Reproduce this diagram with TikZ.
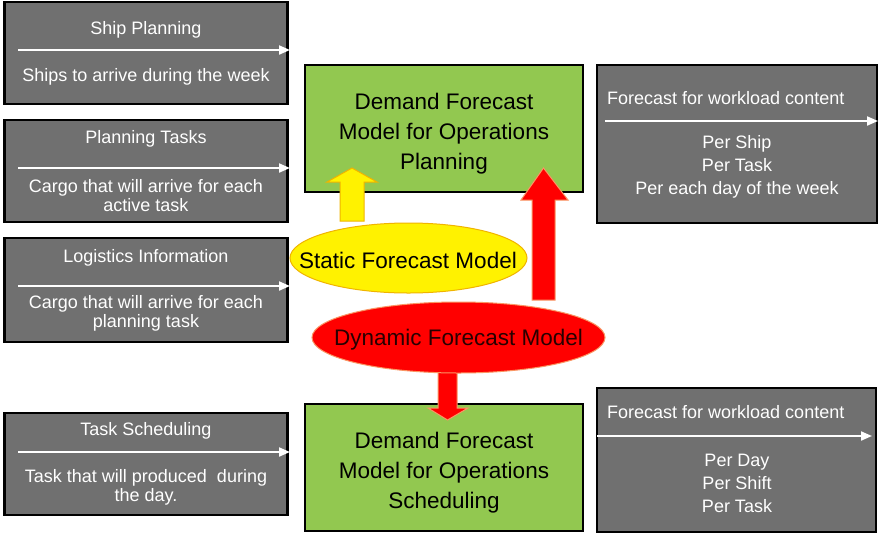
\documentclass[tikz,border=0pt]{standalone}
\usepackage{fontspec}
\setmainfont{Liberation Sans}
\usetikzlibrary{arrows.meta,shapes.geometric}
\definecolor{boxgray}{RGB}{112,112,112}
\definecolor{boxgreen}{RGB}{146,200,80}
\definecolor{yelloutline}{RGB}{240,180,0}
\definecolor{redoutline}{RGB}{250,150,100}
\definecolor{darktxt}{RGB}{40,0,0}
\tikzset{
  graybox/.style={draw=black, line width=2.5pt, fill=boxgray, inner sep=0pt},
  greenbox/.style={draw=black, line width=2pt, fill=boxgreen, inner sep=0pt},
  wtxt/.style={text=white, font=\fontsize{18}{19}\selectfont, align=center, inner sep=0pt},
  gtxt/.style={text=black, font=\fontsize{22.5}{30}\selectfont, align=center, inner sep=0pt},
  rtxt/.style={text=white, font=\fontsize{18}{23}\selectfont, align=center, inner sep=0pt},
  etxt/.style={font=\fontsize{22.5}{26}\selectfont, inner sep=0pt},
  warrow/.style={draw=white, line width=2pt, -{Triangle[length=11pt,width=9pt]}},
  yblock/.style={fill=yellow, draw=yelloutline, line width=1pt},
  rblock/.style={fill=red, draw=redoutline, line width=1pt},
}
\begin{document}
\begin{tikzpicture}[x=1pt,y=-1pt]
\useasboundingbox[fill=white] (0,0) rectangle (880,536);
% left gray boxes
\node[graybox, minimum width=283pt, minimum height=102pt] (sp) at (146,53) {};
\node[graybox, minimum width=283pt, minimum height=102pt] (pt) at (146,171) {};
\node[graybox, minimum width=283pt, minimum height=104pt] (li) at (146,290) {};
\node[graybox, minimum width=283pt, minimum height=102pt] (ts) at (146,464) {};
% right gray boxes
\node[graybox, minimum width=280pt, minimum height=158pt] (rt) at (737,144) {};
\node[graybox, minimum width=279pt, minimum height=144pt] (rb) at (736.5,460) {};
% green boxes
\node[greenbox, minimum width=278pt, minimum height=127pt] (gt) at (444,128.5) {};
\node[greenbox, minimum width=278pt, minimum height=127pt] (gb) at (444,467.5) {};
% texts in left boxes
\node[wtxt] (spt) at (146,30) {Ship Planning};
\node[wtxt] (sps) at (146,77) {Ships to arrive during the week};
\node[wtxt] (ptt) at (146,139) {Planning Tasks};
\node[wtxt] (pts) at (146,195.5) {Cargo that will arrive for each\\active task};
\node[wtxt] (lit) at (146,258) {Logistics Information};
\node[wtxt] (lis) at (146,313.5) {Cargo that will arrive for each\\planning task};
\node[wtxt] (tst) at (146,431) {Task Scheduling};
\node[wtxt] (tss) at (146,487.5) {Task that will produced\ \ during\\the day.};
% arrows in left boxes
\coordinate (spa1) at (18,50); \coordinate (spa2) at (290,50);
\coordinate (pta1) at (18,168); \coordinate (pta2) at (290,168);
\coordinate (lia1) at (18,286); \coordinate (lia2) at (290,286);
\coordinate (tsa1) at (18,452); \coordinate (tsa2) at (290,452);
\draw[warrow] (spa1) -- (spa2);
\draw[warrow] (pta1) -- (pta2);
\draw[warrow] (lia1) -- (lia2);
\draw[warrow] (tsa1) -- (tsa2);
% right boxes texts
\node[wtxt, anchor=west] (rtt) at (607,98) {Forecast for workload content};
\node[rtxt] (rts) at (737,167) {Per Ship\\Per Task\\Per each day of the week};
\node[wtxt, anchor=west] (rbt) at (607,412) {Forecast for workload content};
\node[rtxt] (rbs) at (737,483) {Per Day\\Per Shift\\Per Task};
\coordinate (rta1) at (605,121); \coordinate (rta2) at (878,121);
\coordinate (rba1) at (597,436); \coordinate (rba2) at (872,436);
\draw[warrow] (rta1) -- (rta2);
\draw[warrow] (rba1) -- (rba2);
% green texts
\node[gtxt] (gtt) at (444,134) {Demand Forecast\\Model for Operations\\Planning};
\node[gtxt] (gbt) at (444,473) {Demand Forecast\\Model for Operations\\Scheduling};
% block arrows
\draw[yblock] (340,221) -- (340,182) -- (327,182) -- (352,168) -- (377,182) -- (364,182) -- (364,221) -- cycle;
\draw[rblock] (532,300) -- (532,200) -- (521,200) -- (543.5,168) -- (568,200) -- (555,200) -- (555,300) -- cycle;
\draw[rblock] (438,365) -- (438,408) -- (428,408) -- (447.5,420) -- (468,408) -- (457,408) -- (457,365) -- cycle;
% ellipses
\draw[fill=yellow, draw=yelloutline, line width=1pt] (408.5,258) ellipse [x radius=118.5, y radius=35];
\node[etxt] (sfm) at (408,260) {Static Forecast Model};
\draw[fill=red, draw=redoutline, line width=1pt] (458.5,337.5) ellipse [x radius=146.5, y radius=35.5];
\node[etxt, text=darktxt] (dfm) at (458.5,340) {Dynamic Forecast Model};
\end{tikzpicture}
\end{document}
